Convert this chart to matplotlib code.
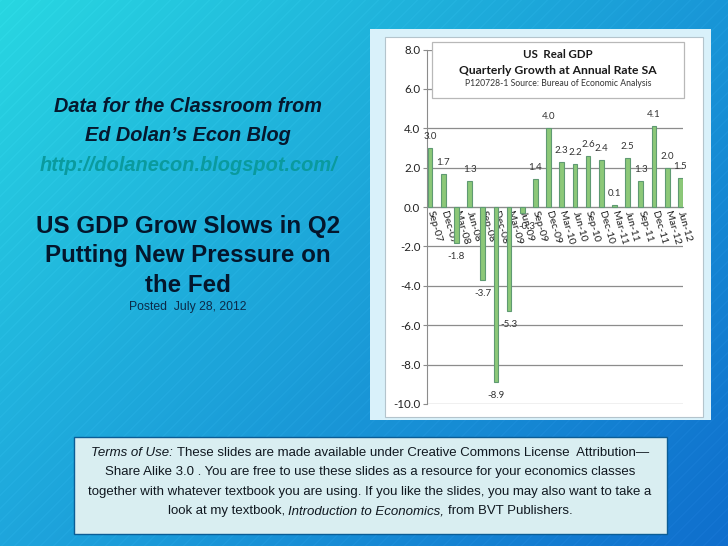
import matplotlib.pyplot as plt
from matplotlib.patches import Rectangle
import numpy as np

quarters = ["Sep-07", "Dec-07", "Mar-08", "Jun-08", "Sep-08", "Dec-08", "Mar-09", "Jun-09", "Sep-09", "Dec-09",
            "Mar-10", "Jun-10", "Sep-10", "Dec-10", "Mar-11", "Jun-11", "Sep-11", "Dec-11", "Mar-12", "Jun-12"]
growth = [3.0, 1.7, -1.8, 1.3, -3.7, -8.9, -5.3, -0.3, 1.4, 4.0,
          2.3, 2.2, 2.6, 2.4, 0.1, 2.5, 1.3, 4.1, 2.0, 1.5]
y_ticks = [8, 6, 4, 2, 0, -2, -4, -6, -8, -10]

W, H = 728, 546


def pixel_axes(fig, zorder):
    ax = fig.add_axes([0, 0, 1, 1], zorder=zorder)
    ax.set_xlim(0, W)
    ax.set_ylim(H, 0)
    ax.axis("off")
    return ax


def slide_background():
    # corner colours blended across the slide, plus faint diagonal stripes
    yy, xx = np.mgrid[0:H, 0:W]
    u = (xx / W)[..., None]
    v = (yy / H)[..., None]
    tl = np.array([40, 215, 225]) / 255
    tr = np.array([25, 150, 215]) / 255
    bl = np.array([30, 165, 220]) / 255
    br = np.array([15, 110, 205]) / 255
    img = tl * (1 - u) * (1 - v) + tr * u * (1 - v) + bl * (1 - u) * v + br * u * v
    stripes = ((xx + yy) % 13 < 2)[..., None]
    return np.clip(img + stripes * 0.015, 0, 1)


def centered_runs(ax, y, runs, fontsize, cx=370):
    # mixed roman and italic on one line, each run is its own text
    renderer = ax.figure.canvas.get_renderer()
    gap = fontsize * 100 / 72 * 0.278
    items = [ax.text(0, y, s, style=st, va="baseline", fontsize=fontsize, color="#101820") for s, st in runs]
    widths = [t.get_window_extent(renderer).width for t in items]
    pos = cx - (sum(widths) + gap * (len(items) - 1)) / 2
    for t, w in zip(items, widths):
        t.set_x(pos)
        pos += w + gap


def main():
    plt.rcParams["font.family"] = "Liberation Sans"

    fig = plt.figure(figsize=(W / 100, H / 100), dpi=100)

    bg = pixel_axes(fig, 0)
    bg.imshow(slide_background(), extent=(0, W, H, 0), aspect="auto")
    bg.add_patch(Rectangle((370, 29), 340.5, 391, fc="#d9f1fa", ec="none"))
    bg.add_patch(Rectangle((385, 37), 318, 380, fc="white", ec="#b4c4cc", lw=0.8))
    bg.add_patch(Rectangle((73.5, 437), 593.5, 97, fc="#d9eef1", ec="#0b5d96", lw=1))

    for line, y in [("Data for the Classroom from", 112), ("Ed Dolan’s Econ Blog", 141)]:
        bg.text(188, y, line, ha="center", va="baseline", fontsize=14.3, fontstyle="italic",
                fontweight="bold", color="#06182e")
    bg.text(188, 171, "http://dolanecon.blogspot.com/", ha="center", va="baseline", fontsize=14.4,
            fontstyle="italic", fontweight="bold", color="#0a9a9e")
    for line, y in [("US GDP Grow Slows in Q2", 233), ("Putting New Pressure on", 262), ("the Fed", 292)]:
        bg.text(188, y, line, ha="center", va="baseline", fontsize=17.4, fontweight="bold", color="#04162c")
    bg.text(188, 310, "Posted  July 28, 2012", ha="center", va="baseline", fontsize=8.8, color="#0b2a48")

    centered_runs(bg, 456, [("Terms of Use:", "italic"),
                            ("These slides are made available under Creative Commons License  Attribution—", "normal")], 9.5)
    centered_runs(bg, 475, [("Share Alike 3.0 . You are free to use these slides as a resource for your economics classes", "normal")], 9.5)
    centered_runs(bg, 495, [("together with whatever textbook you are using. If you like the slides, you may also want to take a", "normal")], 9.5)
    centered_runs(bg, 514, [("look at my textbook,", "normal"), ("Introduction to Economics,", "italic"),
                            ("from BVT Publishers.", "normal")], 9.5)

    ax = fig.add_axes([427.3 / W, 1 - 404 / H, 255.4 / W, 354.5 / H], zorder=1)
    ax.patch.set_alpha(0)
    x = np.arange(len(growth))
    ax.bar(x, growth, width=0.36, color="#8cc878", edgecolor="#5f9a72", linewidth=0.8, zorder=3)
    ax.set_xlim(-0.205, 19.18)
    ax.set_ylim(-10, 8)

    ax.set_yticks(y_ticks)
    ax.set_yticklabels([f"{v:.1f}" for v in y_ticks], fontfamily="Lato", fontsize=8.3, color="#222222")
    ax.grid(axis="y", color="#8c8c8c", lw=0.9, zorder=1)
    ax.tick_params(axis="y", color="#8c8c8c", length=3, pad=2)
    for side in ["top", "right"]:
        ax.spines[side].set_visible(False)
    ax.spines["left"].set_color("#8c8c8c")
    ax.spines["bottom"].set_color("#8c8c8c")
    ax.spines["bottom"].set_position("zero")

    ax.set_xticks(x)
    ax.set_xticklabels(quarters, rotation=-74, rotation_mode="anchor", ha="left", va="center",
                       fontfamily="Lato", fontsize=7.5, color="#222222", zorder=5)
    ax.tick_params(axis="x", length=0, pad=3)

    for i, v in enumerate(growth):
        dx = 5 if quarters[i] == "Jun-09" else 0
        dy = 11.5 if v > 0 else -13.5
        ax.annotate(f"{v:.1f}", (x[i], v), xytext=(dx, dy), textcoords="offset pixels",
                    ha="center", va="center", fontfamily="Lato", fontsize=7, color="#333333", zorder=4)

    ov = pixel_axes(fig, 2)
    ov.patch.set_alpha(0)
    ov.add_patch(Rectangle((432, 42), 252, 56, fc="white", ec="#b8b8b8", lw=0.9))
    ov.text(558, 55, "US  Real GDP", ha="center", va="center", fontfamily="Lato", fontsize=8.3,
            fontweight="bold", color="#1a1a1a")
    ov.text(558, 71, "Quarterly Growth at Annual Rate SA", ha="center", va="center", fontfamily="Lato",
            fontsize=8.7, fontweight="bold", color="#1a1a1a")
    ov.text(558, 84, "P120728-1 Source: Bureau of Economic Analysis", ha="center", va="center",
            fontfamily="Lato", fontsize=6.2, color="#333333")

    fig.savefig("out.png", dpi=100)


if __name__ == "__main__":
    main()
